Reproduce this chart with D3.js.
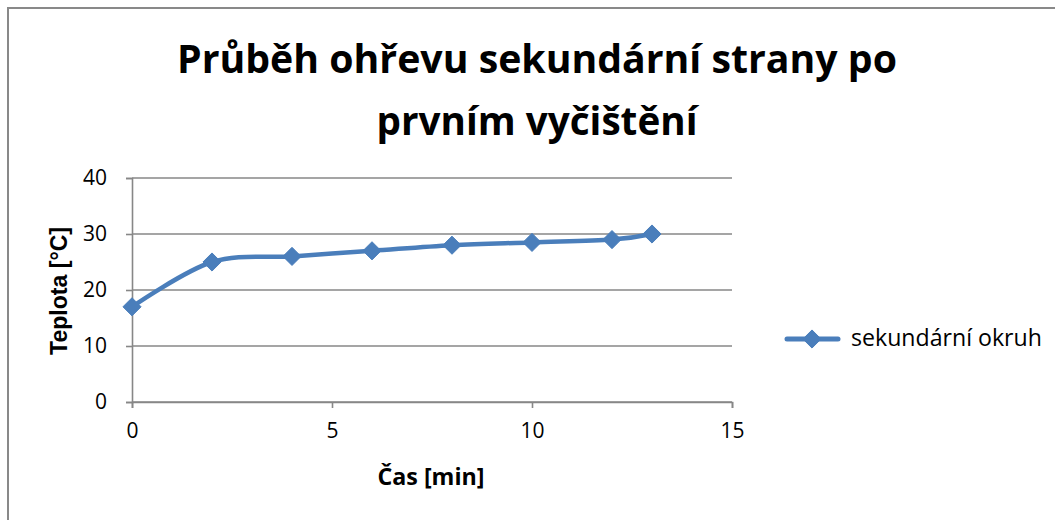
<!DOCTYPE html>
<html>
<head>
<meta charset="utf-8">
<script src="https://cdn.jsdelivr.net/npm/d3@7"></script>
<style>
  html, body { margin: 0; padding: 0; background: #fff; }
  svg { display: block; }
</style>
</head>
<body>
<svg id="chart" width="1055" height="520"></svg>
<script>
// Heating of the secondary side after the first cleaning
const timeMin = [0, 2, 4, 6, 8, 10, 12, 13];
const tempC = [17, 25, 26, 27, 28, 28.5, 29, 30];
const xTicks = [0, 5, 10, 15];
const yTicks = [0, 10, 20, 30, 40];
const titleLines = ["Průběh ohřevu sekundární strany po", "prvním vyčištění"];
const seriesName = "sekundární okruh";
const xTitle = "Čas [min]";
const yTitle = "Teplota [°C]";

const FONT = "'Open Sans', 'Noto Sans', 'Liberation Sans', sans-serif";
const svg = d3.select("#chart");
const blue = "#4A7EBB";
const grid = "#878787";

// chart area frame (only top and left edges are inside the window)
svg.append("path")
  .attr("d", "M8,1055 V8 H1060")
  .attr("fill", "none").attr("stroke", "#898989").attr("stroke-width", 2);

const x = d3.scaleLinear().domain([0, 15]).range([132, 732]);
const y = d3.scaleLinear().domain([0, 40]).range([402, 178]);

// shrink/grow a text element so its width equals target
function fitWidth(sel, target) {
  const node = sel.node();
  const fs = parseFloat(sel.style("font-size"));
  const w = node.getComputedTextLength();
  sel.style("font-size", (fs * target / w).toFixed(2) + "px");
}

// title
const titleCfg = [{ y: 73, w: 720 }, { y: 135, w: 321 }];
titleLines.forEach((t, i) => {
  const el = svg.append("text")
    .attr("x", 537).attr("y", titleCfg[i].y)
    .attr("text-anchor", "middle")
    .style("font-family", FONT)
    .style("font-size", "36px").style("font-weight", "bold")
    .text(t);
  fitWidth(el, titleCfg[i].w);
});

// horizontal gridlines
svg.append("g").selectAll("line").data(yTicks).join("line")
  .attr("x1", x(0)).attr("x2", x(15))
  .attr("y1", d => y(d)).attr("y2", d => y(d))
  .attr("stroke", grid).attr("stroke-width", 1.6);

// y axis
const yAxis = svg.append("g").attr("transform", `translate(${x(0)},0)`)
  .call(d3.axisLeft(y).tickValues(yTicks).tickSize(6).tickPadding(19).tickFormat(d3.format("d")));
// x axis
const xAxis = svg.append("g").attr("transform", `translate(0,${y(0)})`)
  .call(d3.axisBottom(x).tickValues(xTicks).tickSize(6).tickPadding(15).tickFormat(d3.format("d")));

[yAxis, xAxis].forEach(a => {
  a.attr("font-size", null).attr("font-family", null);
  a.select(".domain").attr("stroke", grid).attr("stroke-width", 1.6);
  a.selectAll(".tick line").attr("stroke", grid).attr("stroke-width", 1.6);
  a.selectAll(".tick text")
    .style("font-size", "21px")
    .style("font-family", FONT)
    .attr("fill", "#000");
});

// axis titles
const xt = svg.append("text")
  .attr("x", 431).attr("y", 485)
  .attr("text-anchor", "middle")
  .style("font-family", FONT)
  .style("font-size", "18px").style("font-weight", "bold")
  .text(xTitle);
fitWidth(xt, 107);

const yt = svg.append("text")
  .attr("transform", "translate(67,291) rotate(-90)")
  .attr("text-anchor", "middle")
  .style("font-family", "'Liberation Sans', Arial, sans-serif")
  .style("font-size", "18px").style("font-weight", "bold")
  .text(yTitle);
fitWidth(yt, 128);

// series line (smoothed)
const pts = timeMin.map((t, i) => [t, tempC[i]]);
const line = d3.line()
  .x(d => x(d[0])).y(d => y(d[1]))
  .curve(d3.curveCardinal.tension(0));
svg.append("path")
  .datum(pts)
  .attr("d", line)
  .attr("fill", "none")
  .attr("stroke", blue)
  .attr("stroke-width", 4.5)
  .attr("stroke-linejoin", "round")
  .attr("stroke-linecap", "round");

// diamond markers
const diamond = d3.symbol().type(d3.symbolDiamond2).size(210);
svg.append("g").selectAll("path").data(pts).join("path")
  .attr("transform", d => `translate(${x(d[0])},${y(d[1])})`)
  .attr("d", diamond)
  .attr("fill", blue)
  .attr("stroke", blue)
  .attr("stroke-width", 1);

// legend
const lg = svg.append("g");
lg.append("line")
  .attr("x1", 787).attr("x2", 838).attr("y1", 339).attr("y2", 339)
  .attr("stroke", blue).attr("stroke-width", 5).attr("stroke-linecap", "round");
lg.append("path")
  .attr("transform", "translate(812,339)")
  .attr("d", diamond)
  .attr("fill", blue).attr("stroke", blue);
const lt = lg.append("text")
  .attr("x", 851).attr("y", 346)
  .style("font-family", FONT)
  .style("font-size", "18px")
  .text(seriesName);
fitWidth(lt, 191);
</script>
</body>
</html>
